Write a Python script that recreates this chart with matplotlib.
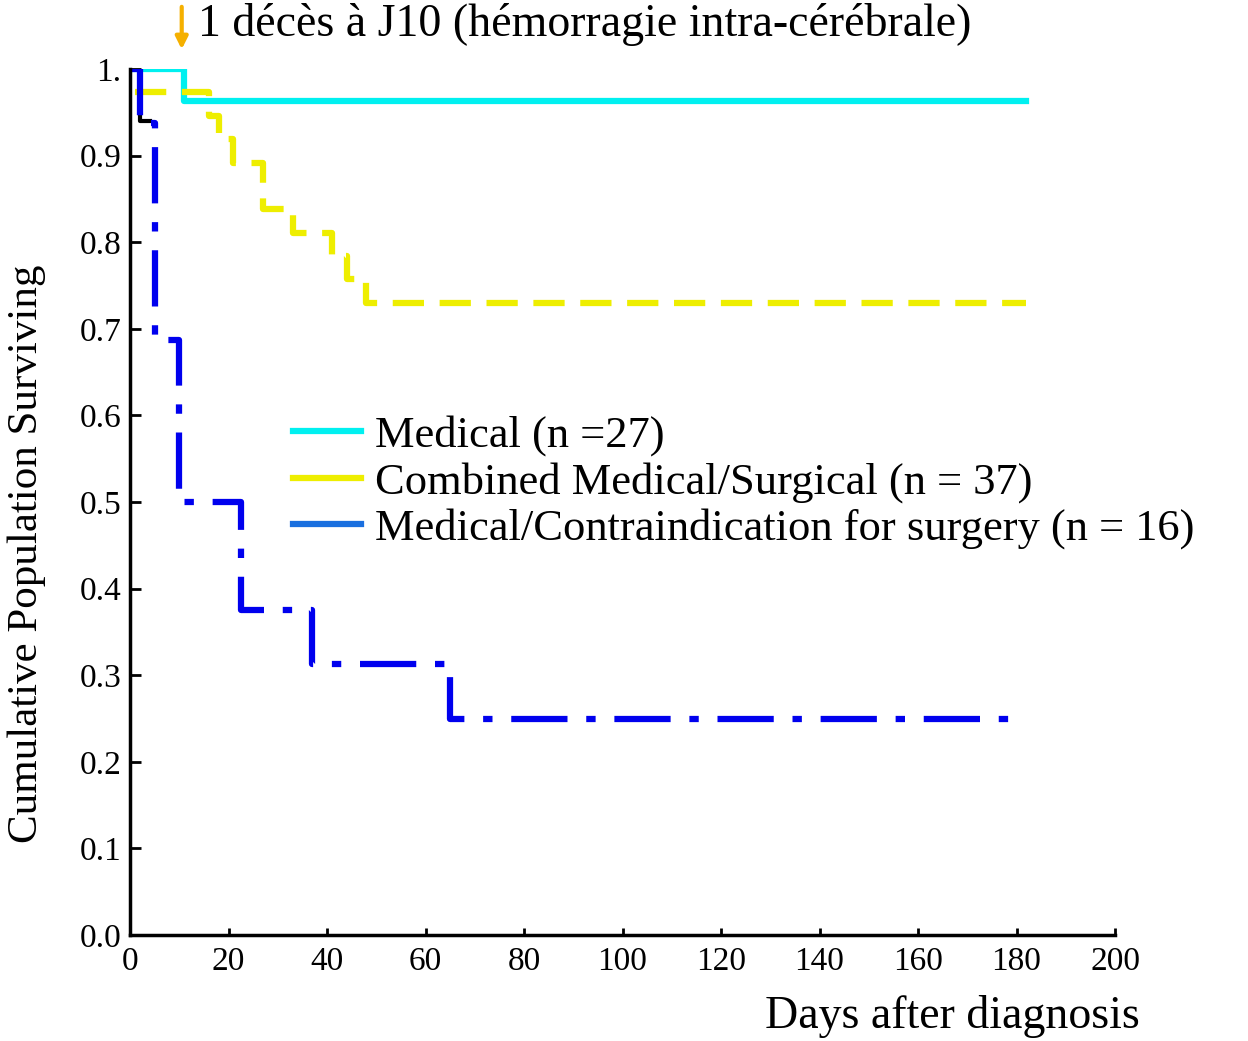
import matplotlib.pyplot as plt

# ---------------------------------------------------
# DATA
# ---------------------------------------------------
med_t = [0, 11, 182]
med_s = [1.0, 0.963, 0.963]

comb_t = [1, 16, 18, 21, 27, 33, 41, 44, 48, 182]
comb_s = [0.973, 0.946, 0.919, 0.892, 0.838, 0.811, 0.784, 0.757, 0.730, 0.730]

contra_t = [0, 2, 5, 10, 22.5, 37, 65, 182]
contra_s = [1.0, 0.9375, 0.6875, 0.5, 0.375, 0.3125, 0.25, 0.25]

black_t = [0, 2, 4]
black_s = [1.0, 0.94, 0.94]

xticks = list(range(0, 201, 20))
yticks = [i / 10 for i in range(11)]
ylabels = ["0.0", "0.1", "0.2", "0.3", "0.4", "0.5", "0.6", "0.7", "0.8", "0.9", "1."]

plt.rcParams['font.family'] = ['Liberation Serif', 'DejaVu Serif']

fig = plt.figure(figsize=(12.48, 10.41), dpi=100)
ax = fig.add_axes([130 / 1248, 1 - 935 / 1041, 985 / 1248, 866 / 1041])

ax.step(black_t, black_s, where='post', color='black', lw=3)
ax.step(med_t, med_s, where='post', color='#00f0f0', lw=4.5)
ax.step(comb_t, comb_s, where='post', color='#eeee00', lw=4.5, dashes=(5, 2.5))
ax.step(contra_t, contra_s, where='post', color='#0000ee', lw=4.5, dashes=(9, 3, 1.5, 3))

# legend samples
ax.plot([], [], color='#00f0f0', lw=4.5, label='Medical (n =27)')
ax.plot([], [], color='#eeee00', lw=4.5, label='Combined Medical/Surgical (n = 37)')
ax.plot([], [], color='#1a6fdf', lw=4.5, label='Medical/Contraindication for surgery (n = 16)')
h, l = ax.get_legend_handles_labels()
ax.legend(h[-3:], l[-3:], loc='upper left', bbox_to_anchor=(0.165, 0.6), frameon=False,
          fontsize=32, handlelength=1.55, handletextpad=0.3, labelspacing=0.12,
          borderaxespad=0, borderpad=0)

ax.set_xlim(0, 200)
ax.set_ylim(0, 1)
ax.set_xticks(xticks)
ax.set_yticks(yticks)
ax.set_yticklabels(ylabels)
ax.tick_params(direction='in', labelsize=24, width=2, length=8, pad=6)
ax.tick_params(axis='x', length=5, pad=8)
for s in ['top', 'right']:
    ax.spines[s].set_visible(False)
for s in ['left', 'bottom']:
    ax.spines[s].set_linewidth(2.5)
ax.patch.set_visible(False)

ax.set_ylabel('Cumulative Population Surviving', fontsize=31)
ax.yaxis.set_label_coords(-0.085, 0.44)
fig.text(1140 / 1248, 1 - 1016 / 1041, 'Days after diagnosis', fontsize=33, ha='right', va='center')

ax.annotate('', xy=(10.5, 1.0195), xytext=(10.5, 1.075), xycoords='data',
            arrowprops=dict(arrowstyle='-|>', color='#f5b000', lw=3, mutation_scale=18),
            annotation_clip=False)
fig.text(198 / 1248, 1 - 25 / 1041, '1 décès à J10 (hémorragie intra-cérébrale)',
         fontsize=33, ha='left', va='center')

fig.savefig('out.png', dpi=100)
